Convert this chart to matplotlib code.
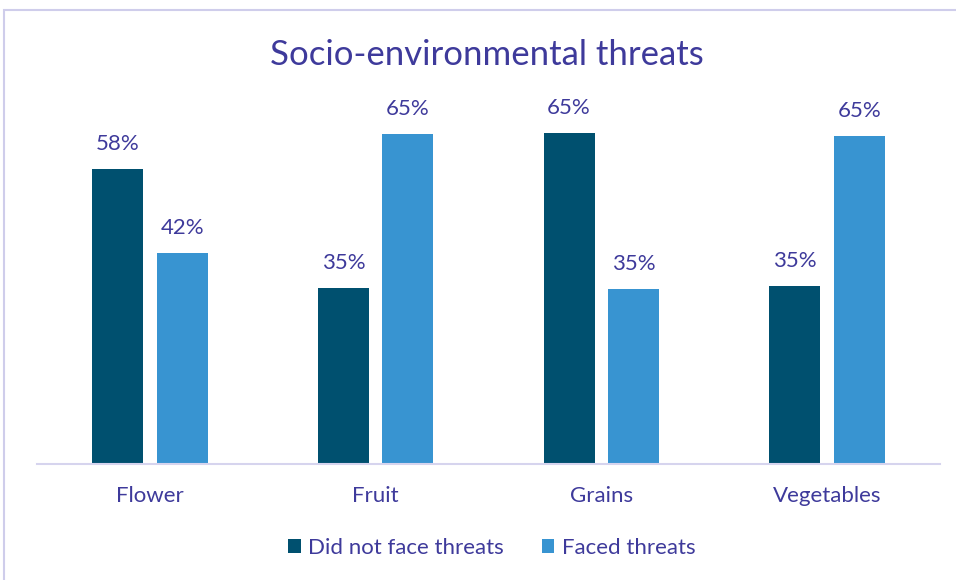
import matplotlib
matplotlib.use("Agg")
import matplotlib.pyplot as plt
from matplotlib.patches import Rectangle
import numpy as np

categories = ["Flower", "Fruit", "Grains", "Vegetables"]
did_not_face = [58.3, 34.8, 65.4, 35.1]
faced = [41.7, 65.2, 34.6, 64.9]
series_names = ["Did not face threats", "Faced threats"]

DARK = "#00506F"
LIGHT = "#3894D1"
TXT = "#3E3A9B"

plt.rcParams['font.family'] = ['Lato', 'DejaVu Sans']

fig = plt.figure(figsize=(9.56, 5.8), dpi=100)
W, H = 956, 580

# chart frame
fig.patches.append(Rectangle((4 / W, -0.05), 1.1, (580 - 10) / H + 0.05,
                             transform=fig.transFigure, fill=False,
                             edgecolor="#CFCDEB", linewidth=1.5))

ax_left, ax_right = 37, 940
ax_bottom_px, ax_top_px = 464, 110
ax = fig.add_axes([ax_left / W, (H - ax_bottom_px) / H,
                   (ax_right - ax_left) / W, (ax_bottom_px - ax_top_px) / H])

x = np.arange(len(categories))
bw = 0.226
off = 0.143
b1 = ax.bar(x - off, did_not_face, bw, color=DARK, label=series_names[0])
b2 = ax.bar(x + off, faced, bw, color=LIGHT, label=series_names[1])

for bars, vals in ((b1, did_not_face), (b2, faced)):
    for r, v in zip(bars, vals):
        ax.annotate(f"{v:.0f}%", (r.get_x() + r.get_width() / 2, v),
                    xytext=(0, 11), textcoords="offset points",
                    ha="center", va="bottom", color=TXT, fontsize=16)

ax.set_xlim(-0.5, 3.5)
ax.set_ylim(0, 70)
ax.set_yticks([])
ax.set_xticks(x)
ax.set_xticklabels(categories, color=TXT, fontsize=16)
ax.tick_params(axis="x", length=0, pad=16)
for s in ("top", "right", "left"):
    ax.spines[s].set_visible(False)
ax.spines["bottom"].set_color("#D6D4EE")
ax.spines["bottom"].set_linewidth(1.5)

fig.text(487 / W, 1 - 55 / H, "Socio-environmental threats", ha="center",
         va="center", color=TXT, fontsize=25)

leg = fig.legend(handles=[b1, b2], labels=series_names, loc="center",
                 bbox_to_anchor=(492 / W, 1 - 548 / H), ncol=2, frameon=False,
                 fontsize=16, handlelength=0.55, handleheight=0.55,
                 handletextpad=0.35, columnspacing=1.7)
for t in leg.get_texts():
    t.set_color(TXT)

fig.savefig("out.png", dpi=100, facecolor="white")
